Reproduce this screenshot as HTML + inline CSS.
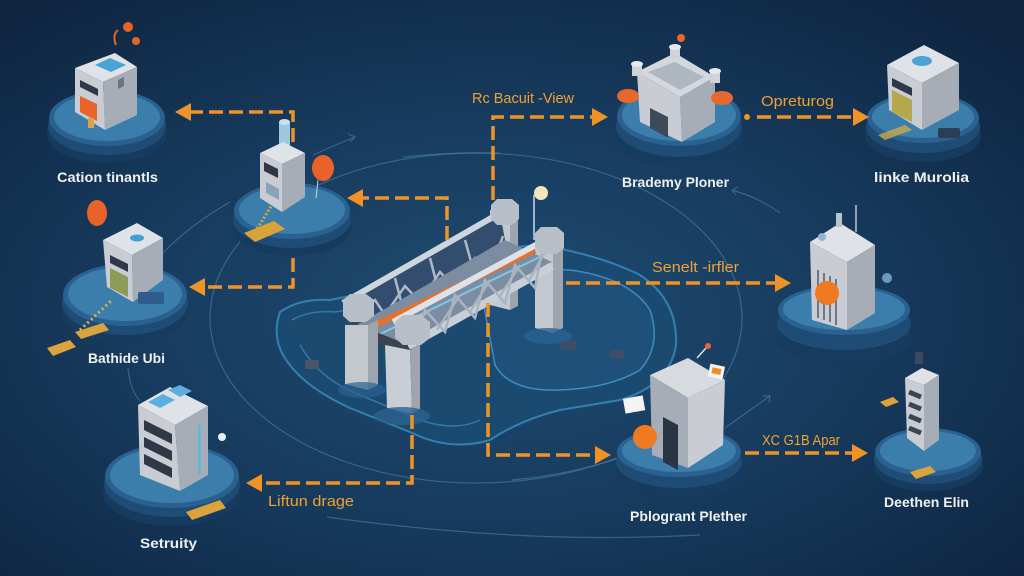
<!DOCTYPE html>
<html><head><meta charset="utf-8"><style>
html,body{margin:0;padding:0;background:#12304f;}
svg{display:block;}
.w{font-family:"Liberation Sans",sans-serif;font-weight:bold;font-size:14px;fill:#eef2f6;}
.o{font-family:"Liberation Sans",sans-serif;font-size:15px;fill:#f0a035;}
.d{fill:none;stroke:#ef9326;stroke-width:3.5;stroke-dasharray:14 6;}
.h{fill:#ef9326;}
.orb{fill:none;stroke:#4f86b0;stroke-width:1.2;opacity:.55;}
.t{fill:#dfe2e6}.l{fill:#c9cdd3}.r{fill:#a7adb6}
.win{fill:#2e3846}
</style></head><body>
<svg width="1024" height="576" viewBox="0 0 1024 576" xmlns="http://www.w3.org/2000/svg">
<defs>
<radialGradient id="bg" cx="48%" cy="55%" r="70%">
<stop offset="0" stop-color="#1e4c71"/>
<stop offset="0.5" stop-color="#173b5e"/>
<stop offset="1" stop-color="#0e2540"/>
</radialGradient>
</defs>
<rect width="1024" height="576" fill="url(#bg)"/>

<!-- orbit lines -->
<ellipse class="orb" cx="476" cy="318" rx="266" ry="165"/>
<path class="orb" d="M327,517 Q420,530 512,535 Q600,540 700,535"/>
<path class="orb" d="M230,202 Q190,225 163,253"/>
<path class="orb" d="M313,155 Q335,145 355,137 M348,134 L355,137 L350,142"/>
<path class="orb" d="M403,157 Q450,152 500,153"/>
<path class="orb" d="M732,190 Q760,198 780,213 M732,190 L738,187 M732,190 L736,195"/>
<path class="orb" d="M725,428 Q750,410 770,396 M763,396 L770,396 L769,403"/>
<path class="orb" d="M128,368 Q130,390 140,401"/>
<path class="orb" d="M512,480 Q620,470 700,420"/>

<!-- bridge base -->
<path d="M280,312 Q300,298 330,300 L370,292 L480,250 L540,245 Q600,255 640,275 Q678,300 676,345 Q670,385 620,400 L560,410 Q520,420 490,440 Q450,452 410,432 L350,408 Q300,385 283,355 Q272,335 280,312 Z" fill="#1b4a70" stroke="#3580b0" stroke-width="2"/>
<path d="M292,320 Q310,310 335,312 L380,305 L470,270 M300,345 Q320,380 360,395 L420,420 Q455,432 480,420" fill="none" stroke="#3f8cc0" stroke-width="1.5" opacity=".7"/>
<path d="M480,285 Q520,268 570,270 Q630,278 650,310 Q662,345 640,370 Q610,388 560,390 Q510,392 495,365 Z" fill="#1f5079" stroke="#3f8cc0" stroke-width="1.5"/>
<rect x="560" y="340" width="16" height="10" fill="#3d4e66" rx="2"/>
<rect x="610" y="350" width="14" height="9" fill="#3d4e66" rx="2"/>
<rect x="305" y="360" width="14" height="9" fill="#4b5566" rx="2"/>

<!-- back pillars -->
<polygon points="490,210 510,210 510,310 490,305" fill="#c3c8cf"/>
<polygon points="510,210 518,206 518,306 510,310" fill="#9ea5af"/>
<polygon points="535,245 553,245 553,333 535,328" fill="#c3c8cf"/>
<polygon points="553,245 563,239 563,328 553,333" fill="#9ea5af"/>
<ellipse cx="548" cy="336" rx="24" ry="8" fill="#2a6190" opacity=".8"/>

<!-- lamp -->
<line x1="534" y1="195" x2="534" y2="240" stroke="#9fb3c7" stroke-width="2"/>
<circle cx="541" cy="193" r="7" fill="#f3e6bd"/>

<!-- back truss -->
<polygon points="343,303 500,213 505,240 348,330" fill="#324d6e"/>
<path d="M343,303 L500,213" stroke="#cfd5dc" stroke-width="6"/>
<path d="M350,318 L375,300 L385,315 L405,286 L420,302 L440,272 L455,288 L475,258 L490,272 L503,236 M360,296 L368,322 M395,278 L402,305 M430,258 L437,285 M465,240 L472,265" stroke="#aeb9c6" stroke-width="2.5" fill="none"/>
<!-- deck floor -->
<polygon points="348,330 505,240 552,262 405,348" fill="#7c8ca1"/>
<path d="M360,332 L535,250" stroke="#e8702a" stroke-width="6"/>
<path d="M372,338 L542,256" stroke="#7cc7ee" stroke-width="2"/>
<!-- front truss -->
<path d="M393,322 L545,240" stroke="#dde2e8" stroke-width="6"/>
<path d="M408,346 L552,266" stroke="#c9cfd7" stroke-width="8"/>
<path d="M398,325 L415,342 L425,310 L445,332 L455,295 L475,318 L485,280 L505,303 L515,265 L535,288 L543,245 M405,330 L430,310 M437,330 L460,295 M470,312 L490,280 M500,296 L520,265 M528,282 L545,252" stroke="#aab4c0" stroke-width="2.5" fill="none"/>
<!-- crossbeam -->
<polygon points="352,322 408,345 408,357 352,334" fill="#3a4350"/>
<!-- front pillars -->
<polygon points="345,325 368,325 368,390 345,384" fill="#c3c8cf"/>
<polygon points="368,325 378,320 378,385 368,390" fill="#9ea5af"/>
<polygon points="385,345 410,350 412,414 387,408" fill="#c9ced5"/>
<polygon points="410,350 420,343 420,409 412,414" fill="#9ea5af"/>
<ellipse cx="402" cy="416" rx="28" ry="9" fill="#2a6190" opacity=".8"/>
<ellipse cx="362" cy="390" rx="24" ry="8" fill="#2a6190" opacity=".7"/>
<!-- pillar caps -->
<polygon points="343,300 350,294 366,294 374,300 374,316 366,322 350,322 343,316" fill="#b8bfc9"/>
<polygon points="395,322 403,315 421,315 430,322 430,338 421,345 403,345 395,338" fill="#b8bfc9"/>
<polygon points="491,205 497,199 512,199 519,205 519,219 512,225 497,225 491,219" fill="#b8bfc9"/>
<polygon points="535,233 541,227 557,227 564,233 564,248 557,254 541,254 535,248" fill="#b8bfc9"/>

<!-- platforms -->
<g id="plat">
<!-- P1 -->
<ellipse cx="107" cy="134" rx="60" ry="29" fill="#173b5f"/>
<ellipse cx="107" cy="126" rx="59" ry="29" fill="#1f4c75"/>
<ellipse cx="107" cy="118" rx="58" ry="28" fill="#2a6190"/>
<ellipse cx="107" cy="117" rx="53" ry="24" fill="#3c7eab"/>
<!-- P2 -->
<ellipse cx="292" cy="227" rx="60" ry="29" fill="#173b5f"/>
<ellipse cx="292" cy="219" rx="59" ry="29" fill="#1f4c75"/>
<ellipse cx="292" cy="211" rx="58" ry="28" fill="#2a6190"/>
<ellipse cx="292" cy="210" rx="53" ry="24" fill="#3c7eab"/>
<!-- P3 -->
<ellipse cx="125" cy="311" rx="64" ry="32" fill="#173b5f"/>
<ellipse cx="125" cy="303" rx="63" ry="32" fill="#1f4c75"/>
<ellipse cx="125" cy="295" rx="62" ry="31" fill="#2a6190"/>
<ellipse cx="125" cy="294" rx="57" ry="27" fill="#3c7eab"/>
<!-- P4 -->
<ellipse cx="172" cy="493" rx="69" ry="33" fill="#173b5f"/>
<ellipse cx="172" cy="484" rx="68" ry="33" fill="#1f4c75"/>
<ellipse cx="172" cy="476" rx="67" ry="32" fill="#2a6190"/>
<ellipse cx="172" cy="475" rx="62" ry="28" fill="#3c7eab"/>
<!-- P5 -->
<ellipse cx="679" cy="136" rx="64" ry="31" fill="#173b5f"/>
<ellipse cx="679" cy="126" rx="63" ry="31" fill="#1f4c75"/>
<ellipse cx="679" cy="116" rx="62" ry="30" fill="#2a6190"/>
<ellipse cx="679" cy="115" rx="57" ry="26" fill="#3c7eab"/>
<!-- P6 -->
<ellipse cx="923" cy="136" rx="58" ry="26" fill="#173b5f"/>
<ellipse cx="923" cy="127" rx="57" ry="26" fill="#1f4c75"/>
<ellipse cx="923" cy="118" rx="56" ry="25" fill="#2a6190"/>
<ellipse cx="923" cy="117" rx="51" ry="21" fill="#3c7eab"/>
<!-- P7 -->
<ellipse cx="844" cy="338" rx="68" ry="27" fill="#173b5f"/>
<ellipse cx="844" cy="324" rx="67" ry="26" fill="#1f4c75"/>
<ellipse cx="844" cy="310" rx="66" ry="25" fill="#2a6190"/>
<ellipse cx="844" cy="309" rx="61" ry="21" fill="#3c7eab"/>
<!-- P8 -->
<ellipse cx="679" cy="472" rx="64" ry="27" fill="#173b5f"/>
<ellipse cx="679" cy="462" rx="63" ry="26" fill="#1f4c75"/>
<ellipse cx="679" cy="452" rx="62" ry="25" fill="#2a6190"/>
<ellipse cx="679" cy="451" rx="57" ry="21" fill="#3c7eab"/>
<!-- P9 -->
<ellipse cx="928" cy="466" rx="55" ry="25" fill="#173b5f"/>
<ellipse cx="928" cy="459" rx="54" ry="25" fill="#1f4c75"/>
<ellipse cx="928" cy="452" rx="53" ry="24" fill="#2a6190"/>
<ellipse cx="928" cy="451" rx="48" ry="20" fill="#3c7eab"/>
</g>

<!-- B1 -->
<polygon class="t" points="75,68 103,82 137,67 115,53"/>
<polygon class="l" points="75,68 103,82 105,130 75,112"/>
<polygon class="r" points="103,82 137,67 137,115 105,130"/>
<polygon points="95,65 110,58 126,65 111,72" fill="#4aa3d4"/>
<polygon class="win" points="80,80 98,89 98,96 80,87"/>
<polygon points="80,96 97,104 97,121 80,112" fill="#e8642a"/>
<polygon points="118,80 124,77 124,86 118,89" fill="#6b7482"/>
<circle cx="128" cy="27" r="5" fill="#e4642a"/>
<circle cx="136" cy="41" r="4" fill="#e4642a"/>
<path d="M116,45 Q112,35 118,30" stroke="#e4642a" stroke-width="2" fill="none"/>
<rect x="88" y="118" width="6" height="10" fill="#e0a050"/>
<!-- B2 -->
<rect x="279" y="122" width="11" height="28" fill="#9ec7e0"/>
<ellipse cx="284.5" cy="122" rx="5.5" ry="3" fill="#c9e2f0"/>
<polygon class="t" points="260,153 282,164 305,153 283,142"/>
<polygon class="l" points="260,153 282,164 282,212 260,198"/>
<polygon class="r" points="282,164 305,153 305,197 282,212"/>
<polygon class="win" points="264,162 278,169 278,178 264,171"/>
<polygon points="266,182 279,189 279,200 266,193" fill="#8aa3b8"/>
<ellipse cx="323" cy="168" rx="11" ry="13" fill="#e8622a"/>
<line x1="318" y1="180" x2="316" y2="198" stroke="#cbd4de" stroke-width="1"/>
<polygon points="244,233 274,221 285,229 255,242" fill="#d9a33a"/>
<path d="M255,232 L272,205" stroke="#d9a33a" stroke-width="3" stroke-dasharray="2 2"/>
<!-- B3 -->
<ellipse cx="97" cy="213" rx="10" ry="13" fill="#e8622a"/>
<polygon class="t" points="103,240 132,255 163,238 137,223"/>
<polygon class="l" points="103,240 132,255 133,302 107,287"/>
<polygon class="r" points="132,255 163,238 163,280 133,302"/>
<ellipse cx="137" cy="238" rx="7" ry="3.5" fill="#3fa0d8"/>
<polygon class="win" points="110,255 128,264 128,272 110,263"/>
<polygon points="110,268 128,277 128,297 110,288" fill="#8c9b55"/>
<rect x="138" y="292" width="26" height="12" rx="2" fill="#2f5c8a"/>
<polygon points="47,348 70,340 76,347 53,356" fill="#dba33b"/>
<polygon points="75,332 103,323 109,330 81,339" fill="#dba33b"/>
<path d="M80,330 L112,300" stroke="#d9b050" stroke-width="3" stroke-dasharray="2 3"/>
<!-- B4 -->
<polygon class="t" points="138,405 175,425 208,406 170,387"/>
<polygon class="l" points="138,405 175,425 180,491 140,475"/>
<polygon class="r" points="175,425 208,406 208,475 180,491"/>
<polygon points="148,402 163,394 175,400 160,408" fill="#5aaee0"/>
<polygon points="168,390 180,385 192,391 180,397" fill="#5aaee0"/>
<polygon class="win" points="144,420 172,434 172,444 144,430"/>
<polygon class="win" points="144,437 172,451 172,461 144,447"/>
<polygon class="win" points="144,454 172,468 172,478 144,464"/>
<rect x="198" y="425" width="2.5" height="50" fill="#58b8e0"/>
<circle cx="222" cy="437" r="4" fill="#e7eef5"/>
<polygon points="186,512 220,500 226,508 192,520" fill="#dba33b"/>
<!-- B5 castle -->
<polygon points="637,72 680,97 715,77 675,53" fill="#d4d8dd"/>
<polygon points="648,72 680,90 704,77 675,62" fill="#aeb6c0"/>
<polygon class="l" points="637,72 680,97 682,142 640,122"/>
<polygon class="r" points="680,97 715,77 715,122 682,142"/>
<polygon points="650,108 668,117 668,138 650,128" fill="#3e4a5a"/>
<rect x="632" y="64" width="10" height="12" fill="#cfd3d8"/><ellipse cx="637" cy="64" rx="6" ry="3" fill="#e6e9ec"/>
<rect x="670" y="47" width="10" height="12" fill="#cfd3d8"/><ellipse cx="675" cy="47" rx="6" ry="3" fill="#e6e9ec"/>
<rect x="710" y="71" width="10" height="12" fill="#cfd3d8"/><ellipse cx="715" cy="71" rx="6" ry="3" fill="#e6e9ec"/>
<ellipse cx="628" cy="96" rx="11" ry="7" fill="#e8672a"/>
<ellipse cx="722" cy="98" rx="11" ry="7" fill="#e8672a"/>
<circle cx="681" cy="38" r="4" fill="#e8672a"/>
<!-- B6 -->
<polygon class="t" points="887,65 922,83 959,63 924,45"/>
<polygon class="l" points="887,65 922,83 922,130 889,110"/>
<polygon class="r" points="922,83 959,63 959,110 922,130"/>
<ellipse cx="922" cy="61" rx="10" ry="5" fill="#4aa3d4"/>
<polygon class="win" points="892,78 912,88 912,96 892,86"/>
<polygon points="892,90 912,100 912,122 892,112" fill="#b6a84c"/>
<rect x="938" y="128" width="22" height="10" rx="2" fill="#2c3e55"/>
<polygon points="878,135 905,125 912,130 885,140" fill="#c9aa48" opacity=".8"/>
<!-- B7 -->
<line x1="856" y1="205" x2="856" y2="232" stroke="#b8c6d4" stroke-width="1.5"/>
<polygon class="t" points="810,242 847,262 875,245 840,223"/>
<polygon class="l" points="810,242 847,262 847,330 812,320"/>
<polygon class="r" points="847,262 875,245 875,313 847,330"/>
<rect x="836" y="213" width="6" height="14" fill="#b8c3cf"/>
<circle cx="822" cy="237" r="4" fill="#8fb4d2"/>
<path d="M818,270 L818,318 M824,273 L824,320 M830,276 L830,322 M836,279 L836,325" stroke="#6d7786" stroke-width="2"/>
<circle cx="827" cy="293" r="12" fill="#f07a22"/>
<circle cx="887" cy="278" r="5" fill="#7fb2d6" opacity=".8"/>
<!-- B8 -->
<polygon points="650,375 688,398 725,380 688,358" fill="#d7dadf"/>
<polygon class="r" points="650,375 688,398 688,468 652,455"/>
<polygon class="l" points="688,398 725,380 723,445 688,468"/>
<polygon points="663,417 678,425 678,470 663,462" fill="#2a3442"/>
<circle cx="645" cy="437" r="12" fill="#f07a22"/>
<rect x="709" y="365" width="15" height="13" fill="#f4f4f4" transform="rotate(12 716 371)"/>
<rect x="712" y="368" width="9" height="6" fill="#e8902a" transform="rotate(12 716 371)"/>
<rect x="624" y="397" width="20" height="15" fill="#f4f4f4" transform="rotate(-10 634 404)"/>
<line x1="697" y1="358" x2="706" y2="348" stroke="#dfe3e8" stroke-width="1.5"/>
<circle cx="708" cy="346" r="3" fill="#e8672a"/>
<!-- B9 -->
<polygon class="t" points="905,378 924,385 939,375 922,368"/>
<polygon class="l" points="905,378 924,385 924,451 907,438"/>
<polygon class="r" points="924,385 939,375 939,440 924,451"/>
<path d="M909,392 L921,397 M909,404 L921,409 M909,416 L921,421 M909,428 L921,433" stroke="#3a4454" stroke-width="5"/>
<rect x="915" y="352" width="8" height="12" fill="#3a4a60"/>
<polygon points="880,402 893,397 899,402 886,407" fill="#dba33b"/>
<polygon points="910,472 930,466 936,472 916,479" fill="#dba33b"/>

<!-- orange dashed connectors -->
<path class="d" d="M293,142 L293,112 L190,112"/>
<polygon class="h" points="175,112 191,103 191,121"/>
<path class="d" d="M447,240 L447,198 L362,198"/>
<polygon class="h" points="347,198 363,189 363,207"/>
<path class="d" d="M293,258 L293,287 L205,287"/>
<polygon class="h" points="189,287 205,278 205,296"/>
<path class="d" d="M493,200 L493,117 L592,117"/>
<polygon class="h" points="608,117 592,108 592,126"/>
<circle cx="747" cy="117" r="3" class="h"/>
<path class="d" d="M757,117 L853,117"/>
<polygon class="h" points="869,117 853,108 853,126"/>
<path class="d" d="M566,283 L775,283"/>
<polygon class="h" points="791,283 775,274 775,292"/>
<path class="d" d="M488,303 L488,455 L595,455"/>
<polygon class="h" points="611,455 595,446 595,464"/>
<path class="d" d="M412,415 L412,483 L262,483"/>
<polygon class="h" points="246,483 262,474 262,492"/>
<path class="d" d="M745,453 L852,453"/>
<polygon class="h" points="868,453 852,444 852,462"/>

<!-- labels -->
<text class="w" x="57" y="182" textLength="101" lengthAdjust="spacingAndGlyphs">Cation tinantls</text>
<text class="w" x="88" y="363" textLength="77" lengthAdjust="spacingAndGlyphs">Bathide Ubi</text>
<text class="w" x="140" y="548" textLength="57" lengthAdjust="spacingAndGlyphs">Setruity</text>
<text class="w" x="622" y="187" textLength="107" lengthAdjust="spacingAndGlyphs">Brademy Ploner</text>
<text class="w" x="874" y="182" textLength="95" lengthAdjust="spacingAndGlyphs">linke Murolia</text>
<text class="w" x="630" y="521" textLength="117" lengthAdjust="spacingAndGlyphs">Pblogrant Plether</text>
<text class="w" x="884" y="507" textLength="85" lengthAdjust="spacingAndGlyphs">Deethen Elin</text>

<text class="o" x="472" y="103" textLength="102" lengthAdjust="spacingAndGlyphs">Rc Bacuit -View</text>
<text class="o" x="761" y="106" textLength="73" lengthAdjust="spacingAndGlyphs">Opreturog</text>
<text class="o" x="652" y="272" textLength="87" lengthAdjust="spacingAndGlyphs">Senelt -irfler</text>
<text class="o" x="762" y="445" textLength="78" lengthAdjust="spacingAndGlyphs">XC G1B Apar</text>
<text class="o" x="268" y="506" textLength="86" lengthAdjust="spacingAndGlyphs">Liftun drage</text>
</svg>
</body></html>
